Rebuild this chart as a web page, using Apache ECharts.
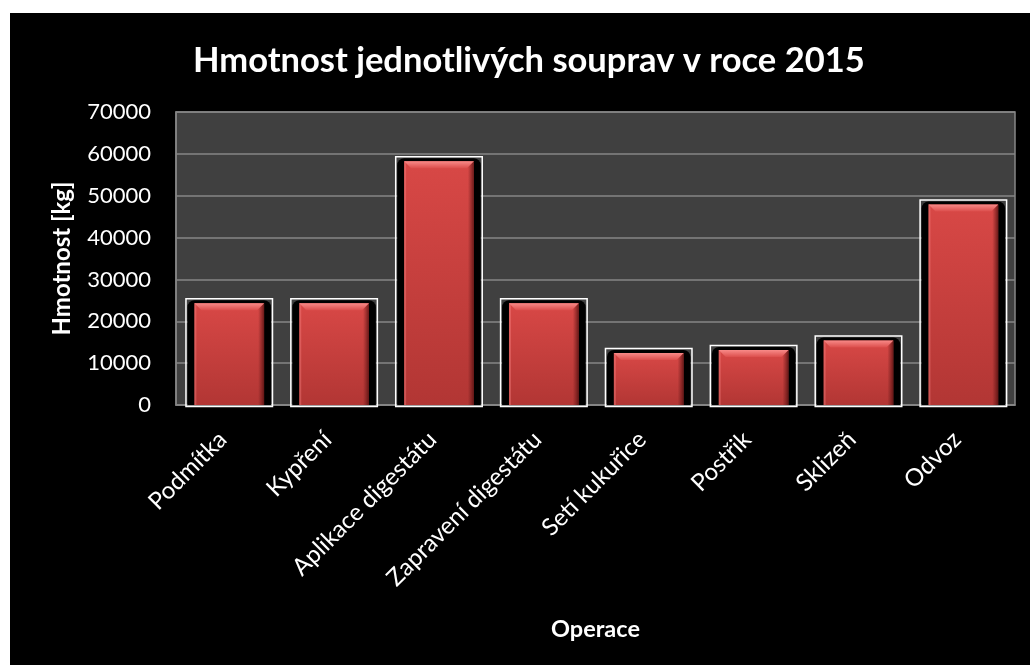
<!DOCTYPE html>
<html>
<head>
<meta charset="utf-8">
<script src="https://cdn.jsdelivr.net/npm/echarts@6/dist/echarts.min.js"></script>
<style>
  html, body { margin: 0; padding: 0; background: #ffffff; }
  #frame { position: absolute; left: 10px; top: 13px; width: 1020px; height: 652px; background: #000000; }
  #chart { width: 1020px; height: 652px; }
</style>
</head>
<body>
<div id="frame"><div id="chart"></div></div>
<script>
// Operations and machine-set weights for 2015 (kg)
const operace = ['Podmítka', 'Kypření', 'Aplikace digestátu', 'Zapravení digestátu', 'Setí kukuřice', 'Postřik', 'Sklizeň', 'Odvoz'];
const hmotnost = [24800, 24800, 58700, 24800, 12900, 13600, 15900, 48400];
const yTicks = [0, 10000, 20000, 30000, 40000, 50000, 60000, 70000];

const FONT = 'Lato, "Open Sans", sans-serif';

// Bevelled red column with black halo and thin white frame
function renderBar(params, api) {
  const idx = api.value(0);
  const val = api.value(1);
  const top = api.coord([idx, val]);
  const base = api.coord([idx, 0]);
  const band = api.size([1, 0])[0];
  const cx = top[0];
  const yT = top[1];
  const yB = base[1];

  const wL = cx - band * 0.405, wR = cx + band * 0.42;
  const rL = cx - band * 0.325, rR = cx + band * 0.34;
  const rTop = yT + 2;
  const bev = 7;

  return {
    type: 'group',
    children: [
      {
        type: 'rect',
        shape: { x: wL + 1.5, y: yT - 1, width: wR - wL - 3, height: yB - yT + 1, r: [7, 7, 0, 0] },
        style: { fill: '#000000' }
      },
      {
        type: 'rect',
        shape: { x: wL, y: yT - 2.5, width: wR - wL, height: yB - yT + 4 },
        style: { fill: 'none', stroke: '#ffffff', lineWidth: 1.5 }
      },
      {
        type: 'rect',
        shape: { x: rL, y: rTop, width: rR - rL, height: yB - rTop },
        style: {
          fill: new echarts.graphic.LinearGradient(0, 0, 0, 1, [
            { offset: 0, color: '#d84846' },
            { offset: 1, color: '#b23634' }
          ])
        }
      },
      {
        type: 'rect',
        shape: { x: rR - 6, y: rTop, width: 6, height: yB - rTop },
        style: {
          fill: new echarts.graphic.LinearGradient(0, 0, 1, 0, [
            { offset: 0, color: 'rgba(90,20,20,0)' },
            { offset: 1, color: 'rgba(70,10,10,0.75)' }
          ])
        }
      },
      {
        type: 'rect',
        shape: { x: rL, y: rTop, width: 2, height: yB - rTop },
        style: { fill: 'rgba(255,140,140,0.35)' }
      },
      {
        type: 'polygon',
        shape: { points: [[rL, rTop], [rR, rTop], [rR - bev, rTop + bev], [rL + bev, rTop + bev]] },
        style: {
          fill: new echarts.graphic.LinearGradient(0, 0, 0, 1, [
            { offset: 0, color: '#f88a88' },
            { offset: 1, color: '#dc4e4c' }
          ])
        }
      }
    ]
  };
}

const chart = echarts.init(document.getElementById('chart'), null, { renderer: 'canvas' });
chart.setOption({
  backgroundColor: '#000000',
  animation: false,
  title: {
    text: 'Hmotnost jednotlivých souprav v roce 2015',
    left: 178,
    top: 25,
    textStyle: { color: '#ffffff', fontFamily: FONT, fontWeight: 'bold', fontSize: 34.5 }
  },
  grid: {
    left: 166, right: 15, top: 99, bottom: 260,
    show: true,
    backgroundColor: '#404040',
    borderColor: '#868686',
    borderWidth: 1.5
  },
  xAxis: {
    type: 'category',
    data: operace,
    name: 'Operace',
    nameLocation: 'middle',
    nameGap: 212,
    nameTextStyle: { color: '#ffffff', fontFamily: FONT, fontWeight: 'bold', fontSize: 23.5 },
    axisLine: { show: true, lineStyle: { color: '#868686', width: 1.5 } },
    axisTick: { show: false },
    axisLabel: {
      rotate: 45, margin: 25, padding: [0, 8, 0, 0],
      color: '#ffffff', fontFamily: FONT, fontSize: 24, interval: 0
    }
  },
  yAxis: {
    type: 'value',
    min: yTicks[0],
    max: yTicks[yTicks.length - 1],
    interval: yTicks[1] - yTicks[0],
    name: 'Hmotnost [kg]',
    nameLocation: 'middle',
    nameGap: 102,
    nameRotate: 90,
    nameTextStyle: { color: '#ffffff', fontFamily: FONT, fontWeight: 'bold', fontSize: 24 },
    axisLine: { show: true, lineStyle: { color: '#868686', width: 1.5 } },
    axisTick: { show: false },
    splitLine: { show: true, lineStyle: { color: '#868686', width: 1.5 } },
    axisLabel: { margin: 25, color: '#ffffff', fontFamily: FONT, fontSize: 22, formatter: v => String(v) }
  },
  series: [{
    type: 'custom',
    renderItem: renderBar,
    encode: { x: 0, y: 1 },
    data: hmotnost.map((v, i) => [i, v])
  }]
});
</script>
</body>
</html>
